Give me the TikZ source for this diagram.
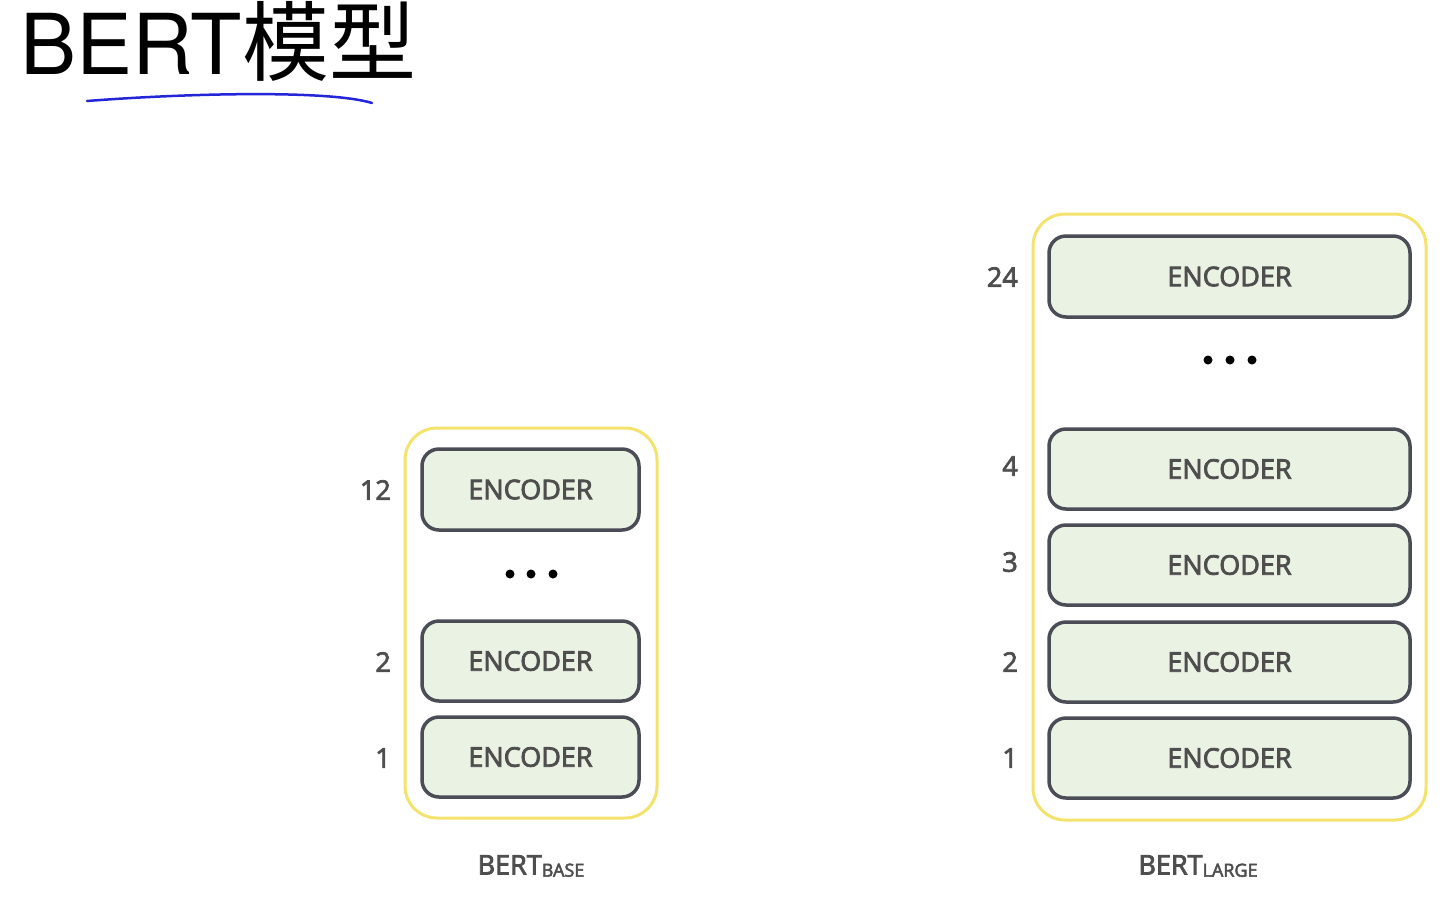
\documentclass[tikz,border=0pt]{standalone}
\usepackage{fontspec}
\setmainfont{Open Sans}
\newfontfamily\semib{Open Sans}[FakeBold=3]
\newfontfamily\titlefont{TeX Gyre Heros}
\newfontfamily\cjk{Noto Sans CJK SC}
\definecolor{encfill}{HTML}{EAF2E3}
\definecolor{encdraw}{HTML}{4A4D55}
\definecolor{enctext}{HTML}{4E4E4E}
\definecolor{ybox}{HTML}{F3E26C}
\definecolor{pen}{HTML}{2424D8}
\begin{document}
\begin{tikzpicture}[x=1pt,y=-1pt,
  enc/.style={draw=encdraw,fill=encfill,line width=3.5pt,rounded corners=17pt,
    text=enctext,font=\semib\fontsize{27}{30}\selectfont,inner sep=0pt},
  stack/.style={draw=ybox,line width=3pt,rounded corners=32pt,inner sep=0pt},
  num/.style={anchor=east,text=enctext,font=\semib\fontsize{27}{30}\selectfont,inner sep=0pt},
  lbl/.style={text=enctext,font=\semib\fontsize{27}{30}\selectfont,inner sep=0pt},
  dot/.style={circle,fill=black,minimum size=9pt,inner sep=0pt}]
\useasboundingbox (0,0) rectangle (1456,922);
% title
\node[anchor=base west,inner sep=0pt] (title) at (20,74)
  {\titlefont\fontsize{84}{90}\selectfont BERT\cjk\fontsize{87}{90}\selectfont 模型};
\coordinate (u1) at (87,101);
\coordinate (u2) at (372,103);
\draw[pen,line width=2.5pt,line cap=round] (u1) .. controls (190,93) and (330,90) .. (u2);
% BERT base
\node[stack,minimum width=252pt,minimum height=390pt] (base) at (531,623) {};
\node[enc,minimum width=217pt,minimum height=81pt] (b12) at (530.5,489.5) {ENCODER};
\node[enc,minimum width=217pt,minimum height=80pt] (b2) at (530.5,661) {ENCODER};
\node[enc,minimum width=217pt,minimum height=80pt] (b1) at (530.5,757) {ENCODER};
\node[num] (nb12) at (391,490) {12};
\node[num] (nb2) at (391,662) {2};
\node[num] (nb1) at (391,758) {1};
\node[dot] (bd1) at (510,574) {};
\node[dot] (bd2) at (531,574) {};
\node[dot] (bd3) at (553,574) {};
\node[lbl] (lb) at (531,866) {BERT\raisebox{-0.15ex}{\fontsize{18}{20}\selectfont BASE}};
% BERT large
\node[stack,minimum width=393pt,minimum height=606pt] (large) at (1229.5,517) {};
\node[enc,minimum width=361pt,minimum height=81pt] (l24) at (1229.5,276.5) {ENCODER};
\node[enc,minimum width=361pt,minimum height=80pt] (l4) at (1229.5,469) {ENCODER};
\node[enc,minimum width=361pt,minimum height=80pt] (l3) at (1229.5,565) {ENCODER};
\node[enc,minimum width=361pt,minimum height=80pt] (l2) at (1229.5,662) {ENCODER};
\node[enc,minimum width=361pt,minimum height=80pt] (l1) at (1229.5,758) {ENCODER};
\node[num] (nl24) at (1018,277) {24};
\node[num] (nl4) at (1018,466) {4};
\node[num] (nl3) at (1018,562) {3};
\node[num] (nl2) at (1018,662) {2};
\node[num] (nl1) at (1018,758) {1};
\node[dot] (ld1) at (1208,360) {};
\node[dot] (ld2) at (1230,360) {};
\node[dot] (ld3) at (1252,360) {};
\node[lbl] (ll) at (1198,866) {BERT\raisebox{-0.15ex}{\fontsize{18}{20}\selectfont LARGE}};
\end{tikzpicture}
\end{document}
